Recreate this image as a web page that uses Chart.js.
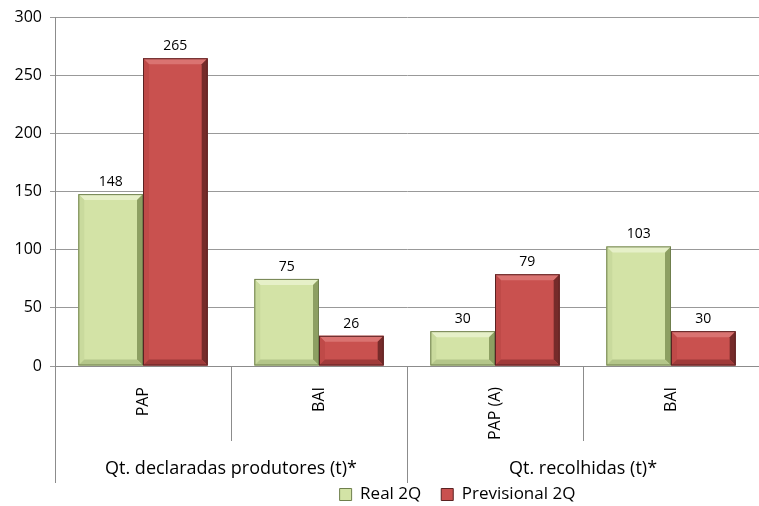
<!DOCTYPE html>
<html>
<head>
<meta charset="utf-8">
<script src="https://cdn.jsdelivr.net/npm/chart.js@4"></script>
<style>
  html, body { margin: 0; padding: 0; background: #fff; }
  #wrap { width: 759px; height: 506px; }
</style>
</head>
<body>
<div id="wrap"><canvas id="chart"></canvas></div>
<script>
const categories = ["PAP", "BAI", "PAP (A)", "BAI"];
const groups = ["Qt. declaradas produtores (t)*", "Qt. recolhidas (t)*"];
const real2Q = [148, 75, 30, 103];
const previsional2Q = [265, 26, 79, 30];
const seriesNames = ["Real 2Q", "Previsional 2Q"];

const FONT = "'Open Sans', sans-serif";
const ctx = document.getElementById("chart");

// shades for the bevel effect: body, top, left, right, bottom, outline
const shades = [
  ["#d3e3a6", "#e6f0c8", "#c9da9d", "#8d9f62", "#b4c68a", "#6f7f4d"],
  ["#c9514f", "#da7371", "#bf4a48", "#762b2a", "#a03b3a", "#5a2222"],
];

const bevelBars = {
  id: "bevelBars",
  afterDatasetsDraw(chart) {
    const c = chart.ctx;
    chart.data.datasets.forEach((ds, di) => {
      const s = shades[di];
      chart.getDatasetMeta(di).data.forEach((bar) => {
        const l = bar.x - bar.width / 2, r = bar.x + bar.width / 2;
        const t = bar.y, btm = bar.base;
        const b = Math.min(6, (btm - t) / 2);
        const poly = (pts, col) => {
          c.beginPath();
          c.moveTo(pts[0][0], pts[0][1]);
          pts.slice(1).forEach((p) => c.lineTo(p[0], p[1]));
          c.closePath();
          c.fillStyle = col;
          c.fill();
        };
        c.save();
        poly([[l, t], [r, t], [r - b, t + b], [l + b, t + b]], s[1]);
        poly([[l, t], [l + b, t + b], [l + b, btm - b], [l, btm]], s[2]);
        poly([[r, t], [r, btm], [r - b, btm - b], [r - b, t + b]], s[3]);
        poly([[l, btm], [l + b, btm - b], [r - b, btm - b], [r, btm]], s[4]);
        c.strokeStyle = s[5];
        c.lineWidth = 1;
        c.strokeRect(l + 0.5, t + 0.5, r - l - 1, btm - t - 1);
        c.restore();
      });
    });
  },
};

const valueLabels = {
  id: "valueLabels",
  afterDatasetsDraw(chart) {
    const c = chart.ctx;
    c.save();
    c.font = "14px " + FONT;
    c.fillStyle = "#000";
    c.textAlign = "center";
    c.textBaseline = "bottom";
    chart.data.datasets.forEach((ds, di) => {
      chart.getDatasetMeta(di).data.forEach((bar, i) => {
        c.fillText(ds.data[i], bar.x, bar.y - 5);
      });
    });
    c.restore();
  },
};

// divider lines of the two level category axis
const dividers = {
  id: "dividers",
  afterDraw(chart) {
    const x = chart.scales.x, x2 = chart.scales.x2;
    const c = chart.ctx;
    const step = (x.right - x.left) / categories.length;
    c.save();
    c.strokeStyle = "#8c8c8c";
    c.lineWidth = 1;
    for (let i = 0; i <= categories.length; i++) {
      const px = Math.round(x.left + step * i) + 0.5;
      const bottom = i % 2 === 0 ? x2.bottom : x.bottom;
      c.beginPath();
      c.moveTo(px, x.top);
      c.lineTo(px, bottom);
      c.stroke();
    }
    c.restore();
  },
};

// the legend in the reference sits right of centre and close to the axis
const legendShift = {
  id: "legendShift",
  afterLayout(chart) {
    chart.legend.left += 78;
    chart.legend.right += 78;
    chart.legend.top -= 17;
    chart.legend.bottom -= 17;
  },
};

new Chart(ctx, {
  type: "bar",
  data: {
    labels: categories,
    datasets: [
      {
        label: seriesNames[0],
        data: real2Q,
        backgroundColor: shades[0][0],
        borderColor: shades[0][5],
        borderWidth: 0,
        categoryPercentage: 0.735,
        barPercentage: 1,
      },
      {
        label: seriesNames[1],
        data: previsional2Q,
        backgroundColor: shades[1][0],
        borderColor: shades[1][5],
        borderWidth: 0,
        categoryPercentage: 0.735,
        barPercentage: 1,
      },
    ],
  },
  options: {
    responsive: true,
    maintainAspectRatio: false,
    animation: false,
    layout: { padding: { top: 10, right: 0, left: 0, bottom: -24 } },
    scales: {
      y: {
        min: 0,
        max: 300,
        ticks: { stepSize: 50, color: "#000", font: { size: 16, family: FONT }, padding: 8 },
        grid: { color: "#999", tickLength: 5 },
        border: { color: "#8c8c8c" },
        afterFit: (scale) => { scale.width = 55; },
      },
      x: {
        grid: { display: false },
        border: { display: true, color: "#8c8c8c" },
        ticks: {
          color: "#000",
          font: { size: 16, family: FONT },
          minRotation: 90,
          maxRotation: 90,
          padding: 13,
        },
        afterFit: (scale) => { scale.height = 75; },
      },
      x2: {
        type: "category",
        axis: "x",
        position: "bottom",
        weight: 1,
        labels: groups,
        offset: true,
        grid: { display: false },
        border: { display: false },
        ticks: { color: "#000", font: { size: 18, family: FONT }, padding: 9 },
        afterFit: (scale) => { scale.height = 42; },
      },
    },
    plugins: {
      legend: {
        position: "bottom",
        labels: {
          color: "#000",
          font: { size: 17, family: FONT },
          boxWidth: 12,
          boxHeight: 12,
          padding: 20,
          generateLabels: (chart) =>
            chart.data.datasets.map((ds, i) => ({
              text: ds.label,
              fillStyle: ds.backgroundColor,
              strokeStyle: ds.borderColor,
              lineWidth: 1,
              fontColor: "#000",
              datasetIndex: i,
            })),
        },
      },
      tooltip: { enabled: false },
    },
  },
  plugins: [bevelBars, valueLabels, dividers, legendShift],
});
</script>
</body>
</html>
